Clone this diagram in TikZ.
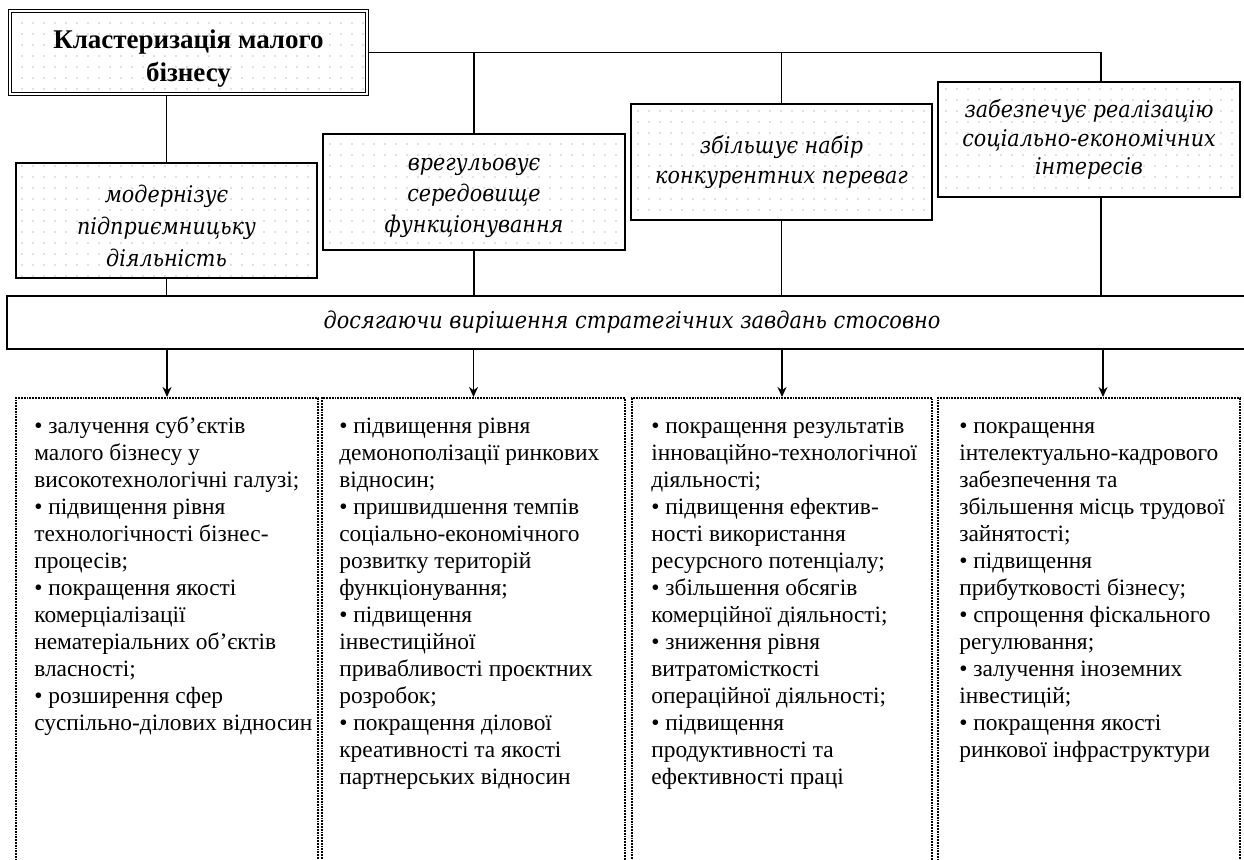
\documentclass[tikz,border=0pt]{standalone}
\usepackage{fontspec}
\setmainfont{Liberation Serif}
\newfontfamily\boxfont{DejaVu Serif Condensed}
\usetikzlibrary{arrows.meta,patterns.meta}
\tikzdeclarepattern{
  name=sparsedots,
  type=uncolored,
  bounding box={(-1pt,-1pt) and (1pt,1pt)},
  tile size={(11pt,11pt)},
  code={\fill (0pt,0pt) circle (0.8pt);}
}
\begin{document}
\begin{tikzpicture}[x=1pt,y=-1pt,
  sbox/.style={draw, line width=1.6pt, pattern=sparsedots, pattern color=black!24,
    align=center, inner sep=0pt, font=\boxfont\itshape\fontsize{23}{30}\selectfont},
  titlebox/.style={draw, line width=1pt, double, double distance=2.2pt,
    pattern=sparsedots, pattern color=black!24, align=center, inner sep=0pt,
    minimum width=357pt, minimum height=83pt,
    font=\bfseries\fontsize{27}{33}\selectfont},
  bandbox/.style={draw, line width=1.6pt, inner sep=0pt, fill=white,
    font=\boxfont\itshape\fontsize{23.2}{30}\selectfont},
  dbox/.style={draw, line width=1.8pt, densely dotted, inner sep=0pt,
    minimum width=300pt, minimum height=520pt, anchor=north},
  itemtext/.style={anchor=north west, inner sep=0pt, align=left,
    font=\fontsize{23.4}{27}\selectfont},
  conn/.style={line width=1.6pt},
  arr/.style={line width=1.6pt, -{Stealth[length=10pt,width=9pt]}}
]
\useasboundingbox (0,0) rectangle (1244,859);
\clip (0,0) rectangle (1244,859);

% top box
\node[titlebox] (top) at (188.5,52.5) {\rule{0pt}{30pt}Кластеризація малого\\бізнесу};

% function boxes
\node[sbox, minimum width=301pt, minimum height=115pt,
  font=\boxfont\itshape\fontsize{23}{32}\selectfont] (b1) at (166.5,220.5)
  {\rule{0pt}{28pt}модернізує\\підприємницьку\\діяльність};
\node[sbox, minimum width=302pt, minimum height=116pt,
  font=\boxfont\itshape\fontsize{23}{31}\selectfont] (b2) at (474,192)
  {\rule{0pt}{24pt}врегульовує\\середовище\\функціонування};
\node[sbox, minimum width=301pt, minimum height=116pt] (b3) at (781.5,162)
  {збільшує набір\\конкурентних переваг};
\node[sbox, minimum width=302pt, minimum height=115pt,
  font=\boxfont\itshape\fontsize{23}{28.5}\selectfont] (b4) at (1089,139.5)
  {забезпечує реалізацію\\соціально-економічних\\інтересів};

% band
\node[bandbox, minimum width=1250pt, minimum height=53pt] (band) at (632,322.5)
  {досягаючи вирішення стратегічних завдань стосовно};

% connectors top
\coordinate (c4) at ([xshift=12pt]b4.north);
\draw[conn] (top.east) -| (c4);
\draw[conn] (b1.north |- top.south) -- (b1.north);
\draw[conn] (b2.north) -- (b2.north |- top.east);
\draw[conn] (b3.north) -- (b3.north |- top.east);

% connectors to band
\draw[conn] (b1.south) -- (b1.south |- band.north);
\draw[conn] (b2.south) -- (b2.south |- band.north);
\draw[conn] (b3.south) -- (b3.south |- band.north);
\coordinate (c4s) at ([xshift=12pt]b4.south);
\draw[conn] (c4s) -- (c4s |- band.north);

% dotted boxes
\node[dbox, minimum width=302pt] (d1) at (167,397) {};
\node[dbox, minimum width=303pt] (d2) at (473.5,397) {};
\node[dbox, minimum width=300pt] (d3) at (782,397) {};
\node[dbox, minimum width=302pt] (d4) at (1089,397) {};

% arrows
\draw[arr] (d1.north |- band.south) -- (d1.north);
\draw[arr] (d2.north |- band.south) -- (d2.north);
\draw[arr] (d3.north |- band.south) -- (d3.north);
\coordinate (c4d) at ([xshift=14pt]d4.north);
\draw[arr] (c4d |- band.south) -- (c4d);

% texts
\node[itemtext] (t1) at ([xshift=19pt,yshift=-17pt]d1.north west)
{\strut• залучення суб’єктів\\малого бізнесу у\\високотехнологічні галузі;\\• підвищення рівня\\технологічності бізнес-\\процесів;\\• покращення якості\\комерціалізації\\нематеріальних об’єктів\\власності;\\• розширення сфер\\суспільно-ділових відносин};
\node[itemtext] (t2) at ([xshift=18pt,yshift=-17pt]d2.north west)
{\strut• підвищення рівня\\демонополізації ринкових\\відносин;\\• пришвидшення темпів\\соціально-економічного\\розвитку територій\\функціонування;\\• підвищення\\інвестиційної\\привабливості проєктних\\розробок;\\• покращення ділової\\креативності та якості\\партнерських відносин};
\node[itemtext] (t3) at ([xshift=20pt,yshift=-17pt]d3.north west)
{\strut• покращення результатів\\інноваційно-технологічної\\діяльності;\\• підвищення ефектив-\\ності використання\\ресурсного потенціалу;\\• збільшення обсягів\\комерційної діяльності;\\• зниження рівня\\витратомісткості\\операційної діяльності;\\• підвищення\\продуктивності та\\ефективності праці};
\node[itemtext] (t4) at ([xshift=22pt,yshift=-17pt]d4.north west)
{\strut• покращення\\інтелектуально-кадрового\\забезпечення та\\збільшення місць трудової\\зайнятості;\\• підвищення\\прибутковості бізнесу;\\• спрощення фіскального\\регулювання;\\• залучення іноземних\\інвестицій;\\• покращення якості\\ринкової інфраструктури};
\end{tikzpicture}
\end{document}
